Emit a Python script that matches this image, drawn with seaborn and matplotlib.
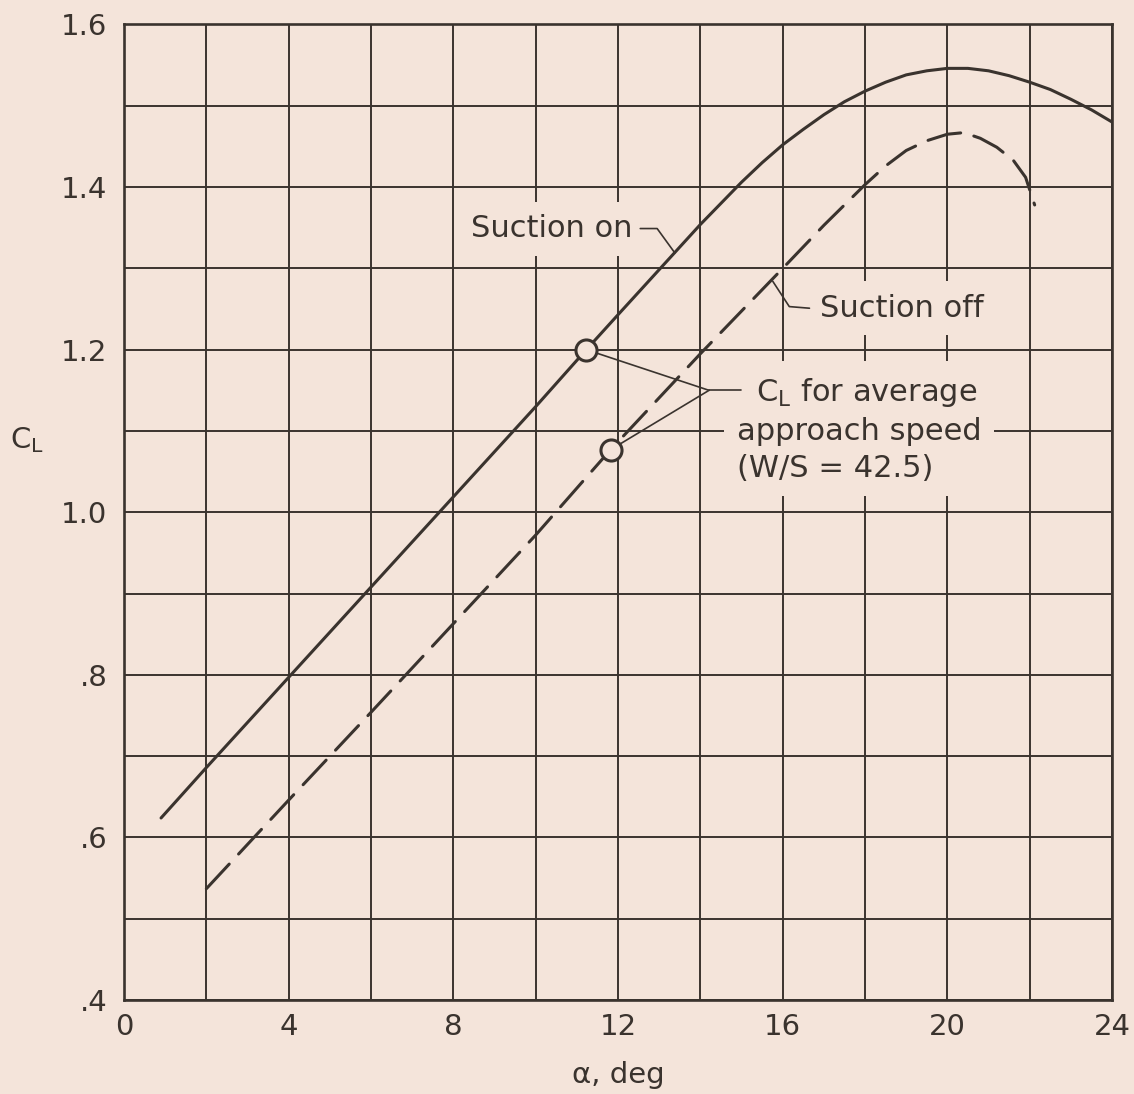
import matplotlib
matplotlib.use("Agg")
import matplotlib.pyplot as plt
import seaborn as sns
import pandas as pd

# Lift coefficient vs angle of attack, suction on / off
alpha_on = [0.9, 2, 4, 6, 8, 10, 11.23, 12, 14, 15, 15.5, 16, 16.5, 17, 17.5, 18,
            18.5, 19, 19.5, 20, 20.5, 21, 21.5, 22, 22.5, 23, 23.5, 24]
cl_on = [0.624, 0.686, 0.797, 0.908, 1.019, 1.130, 1.200, 1.243, 1.354, 1.406,
         1.430, 1.452, 1.471, 1.489, 1.505, 1.518, 1.529, 1.538, 1.543, 1.546,
         1.546, 1.543, 1.537, 1.529, 1.520, 1.508, 1.495, 1.480]

alpha_off = [2, 4, 6, 8, 10, 11.82, 14, 16, 17, 18, 18.5, 19, 19.5, 20, 20.4,
             20.8, 21.2, 21.6, 21.9, 22.12]
cl_off = [0.537, 0.646, 0.754, 0.863, 0.972, 1.077, 1.195, 1.300, 1.353, 1.403,
          1.426, 1.445, 1.457, 1.465, 1.467, 1.460, 1.449, 1.433, 1.412, 1.378]

# C_L for average approach speed (W/S = 42.5)
approach_alpha = [11.23, 11.82]
approach_cl = [1.200, 1.077]

x_ticks = list(range(0, 25, 2))
x_tick_labels = ["0", "", "4", "", "8", "", "12", "", "16", "", "20", "", "24"]
y_ticks = [0.4 + 0.1 * i for i in range(13)]
y_tick_labels = [".4", "", ".6", "", ".8", "", "1.0", "", "1.2", "", "1.4", "", "1.6"]

BG = "#F4E4DA"
INK = "#3a332e"

sns.set_theme(style="white")
plt.rcParams["font.family"] = ["DejaVu Sans"]
plt.rcParams["text.color"] = INK

fig = plt.figure(figsize=(11.34, 10.94), dpi=100, facecolor=BG)
ax = fig.add_axes([0.10935, 0.08583, 0.8713, 0.8918])
ax.set_facecolor(BG)

df_on = pd.DataFrame({"alpha": alpha_on, "cl": cl_on})
df_off = pd.DataFrame({"alpha": alpha_off, "cl": cl_off})

sns.lineplot(data=df_on, x="alpha", y="cl", ax=ax, color=INK, lw=2.2,
             solid_capstyle="round", solid_joinstyle="round", zorder=4)
sns.lineplot(data=df_off, x="alpha", y="cl", ax=ax, color=INK, lw=2.2,
             linestyle=(0, (11, 4.5)), dash_capstyle="round",
             dash_joinstyle="round", zorder=4)

ax.set_xlim(0, 24)
ax.set_ylim(0.4, 1.6)
ax.set_xticks(x_ticks)
ax.set_xticklabels(x_tick_labels)
ax.set_yticks(y_ticks)
ax.set_yticklabels(y_tick_labels)
ax.tick_params(axis="both", length=0, labelsize=21, colors=INK)
ax.tick_params(axis="x", pad=9)
ax.tick_params(axis="y", pad=12)

ax.set_axisbelow(True)
ax.grid(True, color=INK, lw=1.4)
for sp in ax.spines.values():
    sp.set_visible(True)
    sp.set_color(INK)
    sp.set_linewidth(1.9)

ax.set_xlabel("α, deg", fontsize=21, color=INK)
ax.xaxis.set_label_coords(0.5, -0.077)
ax.xaxis.label.set_va("center")
ax.set_ylabel("C$_\\mathregular{L}$", fontsize=21, color=INK, rotation=0)
ax.yaxis.set_label_coords(-0.098, 0.574)
ax.yaxis.label.set_va("center")
ax.yaxis.label.set_ha("center")

box = dict(facecolor=BG, edgecolor="none", pad=9)
FS = 22

# Curve labels with leaders
ax.text(12.34, 1.349, "Suction on", fontsize=FS, ha="right", va="center",
        bbox=box, zorder=3)
ax.plot([12.54, 12.95, 13.38], [1.349, 1.349, 1.319], color=INK, lw=1.2, zorder=5)

ax.text(16.9, 1.251, "Suction off", fontsize=FS, ha="left", va="center",
        bbox=box, zorder=3)
ax.plot([15.76, 16.16, 16.65], [1.284, 1.253, 1.251], color=INK, lw=1.2, zorder=5)

ax.text(14.88, 1.102,
        "  C$_\\mathregular{L}$ for average\napproach speed\n(W/S = 42.5)",
        fontsize=FS, ha="left", va="center", multialignment="left",
        linespacing=1.36, bbox=box, zorder=3)
ax.plot([14.98, 14.21], [1.150, 1.150], color=INK, lw=1.2, zorder=5)
for a, c in zip(approach_alpha, approach_cl):
    ax.plot([14.21, a], [1.150, c], color=INK, lw=1.2, zorder=5)

sns.scatterplot(x=approach_alpha, y=approach_cl, ax=ax, s=230, facecolor=BG,
                edgecolor=INK, linewidth=2.2, zorder=6)

fig.savefig("out.png", dpi=100, facecolor=BG)
